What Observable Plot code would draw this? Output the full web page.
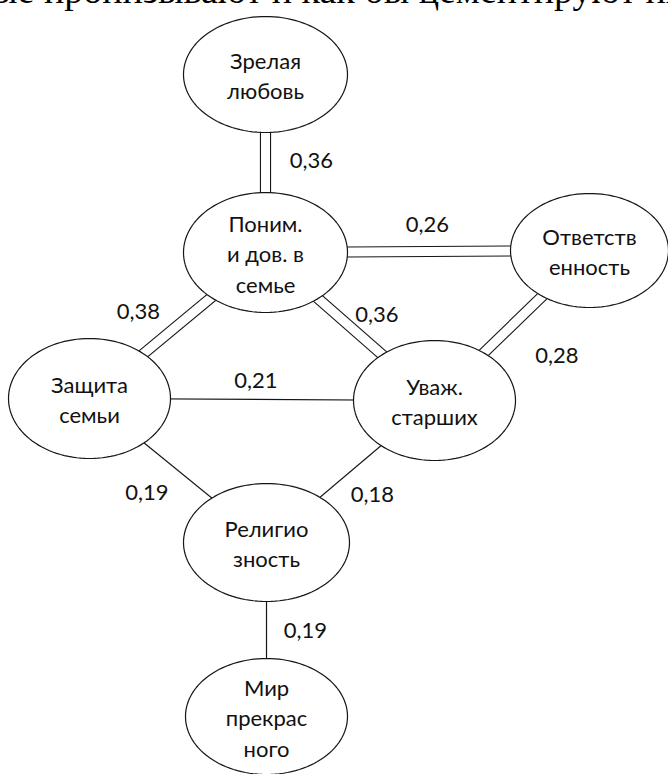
<!DOCTYPE html>
<html>
<head>
<meta charset="utf-8">
<script src="https://cdn.jsdelivr.net/npm/d3@7"></script>
<script src="https://cdn.jsdelivr.net/npm/@observablehq/plot@0.6"></script>
<style>
  html, body { margin: 0; padding: 0; background: #fff; overflow: hidden; }
  #wrap { position: relative; width: 668px; height: 774px; overflow: hidden; }
  #topline {
    position: absolute; left: -8px; top: -29px; white-space: nowrap;
    font-family: "Liberation Serif", "Times New Roman", serif; font-size: 38px; line-height: 38px; color: #000;
  }
  #chart { position: absolute; left: 0; top: 0; }
</style>
</head>
<body>
<div id="wrap">
  <div id="chart"></div>
  <div id="topline">ые пронизывают и как бы цементируют их</div>
</div>
<script>
// ---- data ----
const nodeNames = ["Зрелая любовь", "Поним. и дов. в семье", "Ответственность", "Защита семьи", "Уваж. старших", "Религиозность", "Мир прекрасного"];
const nodeLabels = ["Зрелая\nлюбовь", "Поним.\nи дов. в\nсемье", "Ответств\nенность", "Защита\nсемьи", "Уваж.\nстарших", "Религио\nзность", "Мир\nпрекрас\nного"];
const edgeSources = ["Зрелая любовь", "Поним. и дов. в семье", "Поним. и дов. в семье", "Поним. и дов. в семье", "Ответственность", "Защита семьи", "Защита семьи", "Уваж. старших", "Религиозность"];
const edgeTargets = ["Поним. и дов. в семье", "Ответственность", "Защита семьи", "Уваж. старших", "Уваж. старших", "Уваж. старших", "Религиозность", "Религиозность", "Мир прекрасного"];
const edgeValues = [0.36, 0.26, 0.38, 0.36, 0.28, 0.21, 0.19, 0.18, 0.19];

// ---- layout (diagram coordinates, separate from the data) ----
const nodeCenters = [[265, 74], [265, 252], [589, 250], [89, 398], [434, 400], [266, 542], [266, 716]];
const nodeRadii = [[82, 58], [82, 60], [79, 57], [81, 60], [81, 60], [83, 59], [81, 58]];
const labelOffsets = [[46, -3], [0, -27], [-39, -14], [27, -12], [45, 30], [-6, -19], [-31, 22], [22, 23], [39, 1]];

// ---- build tables ----
const nodes = nodeNames.map((name, i) => ({name, label: nodeLabels[i], x: nodeCenters[i][0], y: nodeCenters[i][1], rx: nodeRadii[i][0], ry: nodeRadii[i][1]}));
const byName = new Map(nodes.map(n => [n.name, n]));
const edges = edgeValues.map((v, i) => {
  const s = byName.get(edgeSources[i]), t = byName.get(edgeTargets[i]);
  return {
    value: v, double: v > 0.25,
    x1: s.x, y1: s.y, x2: t.x, y2: t.y,
    lx: (s.x + t.x) / 2 + labelOffsets[i][0],
    ly: (s.y + t.y) / 2 + labelOffsets[i][1],
    label: v.toFixed(2).replace(".", ",")
  };
});
const ellipsePts = nodes.flatMap(n => d3.range(0, 121).map(k => {
  const a = k / 120 * 2 * Math.PI;
  return {name: n.name, x: n.x + n.rx * Math.cos(a), y: n.y + n.ry * Math.sin(a)};
}));

const ink = "#151515";
const font = "Lato, 'Open Sans', sans-serif";

const chart = Plot.plot({
  width: 668, height: 774, margin: 0,
  x: {domain: [0, 668], range: [0, 668], axis: null},
  y: {domain: [0, 774], range: [0, 774], axis: null},
  style: {background: "transparent"},
  marks: [
    Plot.link(edges.filter(d => d.double), {x1: "x1", y1: "y1", x2: "x2", y2: "y2", stroke: ink, strokeWidth: 11.2, strokeLinecap: "butt"}),
    Plot.link(edges.filter(d => d.double), {x1: "x1", y1: "y1", x2: "x2", y2: "y2", stroke: "white", strokeWidth: 9, strokeLinecap: "butt"}),
    Plot.link(edges.filter(d => !d.double), {x1: "x1", y1: "y1", x2: "x2", y2: "y2", stroke: ink, strokeWidth: 1.2}),
    Plot.line(ellipsePts, {x: "x", y: "y", z: "name", fill: "white", stroke: ink, strokeWidth: 1.2}),
    Plot.text(nodes, {x: "x", y: "y", text: "label", fontSize: 22, lineHeight: 1.38, fill: "#111", fontFamily: font}),
    Plot.text(edges, {x: "lx", y: "ly", text: "label", fontSize: 22, fill: "#111", fontFamily: font})
  ]
});
document.getElementById("chart").appendChild(chart);
</script>
</body>
</html>
